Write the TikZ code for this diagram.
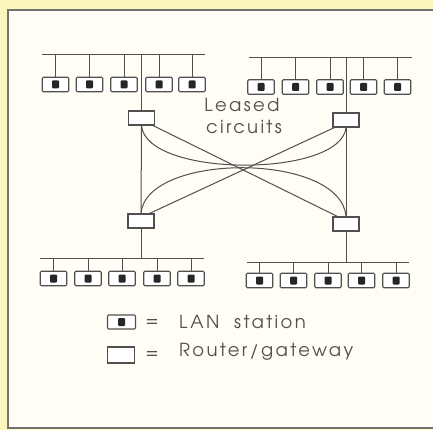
\documentclass[tikz,border=0pt]{standalone}
\usepackage{fontspec}
\setmainfont{TeX Gyre Adventor}[LetterSpace=13]
\definecolor{bg}{HTML}{FCF5BE}
\definecolor{panel}{HTML}{FFFDF5}
\definecolor{ink}{HTML}{505050}
\begin{document}
\begin{tikzpicture}[x=1pt,y=-1pt,
  wire/.style={draw=ink, line width=1pt},
  station/.style={draw=ink, line width=1.1pt, rounded corners=1.2pt, minimum width=26.5pt, minimum height=14.5pt, inner sep=0pt, fill=white,
    path picture={\fill[black!85, rounded corners=1pt] ([xshift=-3.5pt,yshift=-4pt]path picture bounding box.center) rectangle ++(7pt,8pt);}},
  router/.style={draw=ink, line width=1.1pt, minimum width=26pt, minimum height=14pt, inner sep=0pt, fill=white},
  lbl/.style={text=ink, inner sep=0pt, font=\fontsize{18}{21}\selectfont}]
\fill[bg] (0,0) rectangle (433,430);
\useasboundingbox (0,0) rectangle (433,430);
\draw[draw=ink!80, line width=1.3pt, fill=panel] (8,10) rectangle (445,428);

% top-left LAN
\coordinate (tlA) at (42,55); \coordinate (tlB) at (205,55);
\draw[wire] (tlA) -- (tlB);
\foreach \i/\x in {1/55.5,2/89.5,3/124,4/159,5/192}{
  \node[station] (tl\i) at (\x,84.5) {};
  \draw[wire] (tl\i.north) -- (tl\i.north |- tlA);
}
% top-right LAN
\coordinate (trA) at (249,58); \coordinate (trB) at (412,58);
\draw[wire] (trA) -- (trB);
\foreach \i/\x in {1/261,2/295.5,3/330,4/363.5,5/397.5}{
  \node[station] (tr\i) at (\x,87) {};
  \draw[wire] (tr\i.north) -- (tr\i.north |- trA);
}
% bottom-left LAN
\coordinate (blA) at (40,258); \coordinate (blB) at (204,258);
\draw[wire] (blA) -- (blB);
\foreach \i/\x in {1/53.5,2/88,3/122,4/157,5/191}{
  \node[station] (bl\i) at (\x,278.5) {};
  \draw[wire] (bl\i.north) -- (bl\i.north |- blA);
}
% bottom-right LAN
\coordinate (brA) at (247,262); \coordinate (brB) at (409,262);
\draw[wire] (brA) -- (brB);
\foreach \i/\x in {1/259.5,2/293.5,3/328,4/361.5,5/396}{
  \node[station] (br\i) at (\x,280.5) {};
  \draw[wire] (br\i.north) -- (br\i.north |- brA);
}

% routers
\node[router] (rtl) at (141.5,118) {};
\node[router] (rtr) at (346,120) {};
\node[router] (rbl) at (141,221) {};
\node[router] (rbr) at (346,224) {};

\draw[wire] (rtl.north) -- (rtl.north |- tlA);
\draw[wire] (rtr.north) -- (rtr.north |- trA);
\draw[wire] (rbl.south) -- (rbl.south |- blA);
\draw[wire] (rbr.south) -- (rbr.south |- brA);

% leased circuits
\draw[wire] (rtl.south) -- (rbl.north);
\draw[wire] (rtr.south) -- (rbr.north);
\draw[wire] ([xshift=-2pt]rtl.south east) -- ([xshift=5pt]rbr.north west);
\draw[wire] ([xshift=2pt]rtr.south west) -- ([xshift=-5pt]rbl.north east);
\draw[wire] (rtl.south) .. controls (146,178) and (341,178) .. (rtr.south);
\draw[wire] (rbl.north) .. controls (146,152) and (341,152) .. (rbr.north);

\node[lbl, anchor=base] (lc1) at (242,111.7) {Leased};
\node[lbl, anchor=base] (lc2) at (244,133.3) {circuits};

% legend
\node[station, minimum width=28pt, minimum height=14pt] (ks) at (121.5,322) {};
\node[lbl] (eq1) at (152,322.5) {=};
\node[lbl, anchor=base west] (t1) at (179,328.3) {LAN\ \ station};
\node[router, minimum width=27pt, minimum height=16pt] (kr) at (121,355) {};
\node[lbl] (eq2) at (152,354.5) {=};
\node[lbl, anchor=base west] (t2) at (179,356.7) {Router/gateway};
\end{tikzpicture}
\end{document}
